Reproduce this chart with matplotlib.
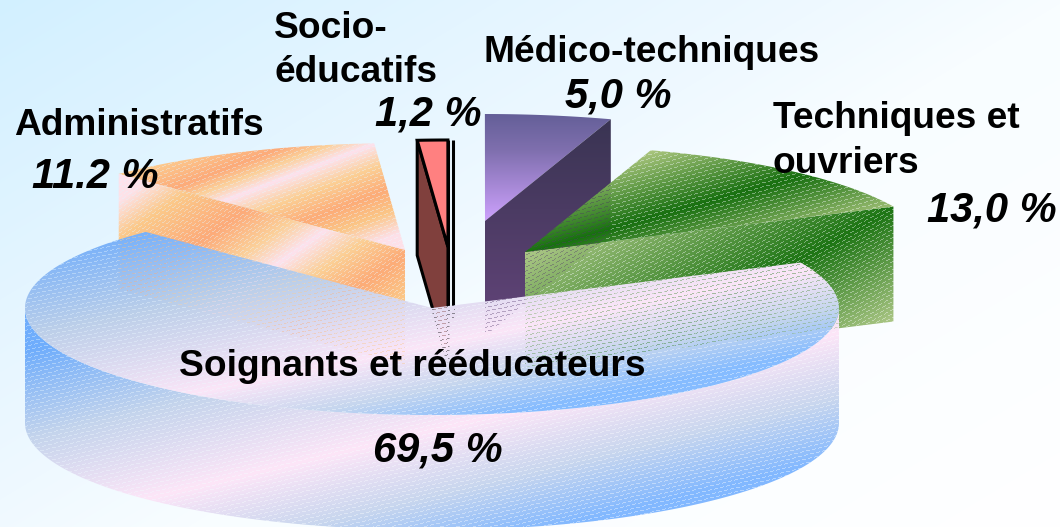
import numpy as np
import matplotlib
matplotlib.use('Agg')
import matplotlib.pyplot as plt
from matplotlib.colors import to_rgb
from matplotlib.patches import Polygon

# pie data, clockwise from the big slice
categories = ['Soignants et rééducateurs', 'Techniques et\nouvriers', 'Médico-techniques',
              'Socio-\néducatifs', 'Administratifs']
values = [69.5, 13.0, 5.0, 1.2, 11.2]
value_labels = ['69,5 %', '13,0 %', '5,0 %', '1,2 %', '11.2 %']

W, H = 1060, 527
RX, RY, DEPTH = 407, 107, 115
START = 134.7

plt.rcParams['font.family'] = ['Liberation Sans', 'DejaVu Sans']

fig = plt.figure(figsize=(W / 100, H / 100), dpi=100)
ax = fig.add_axes([0, 0, 1, 1])
ax.set_xlim(0, W)
ax.set_ylim(H, 0)
ax.axis('off')

px, py = np.meshgrid(np.arange(W) + 0.5, np.arange(H) + 0.5)


def hex_stops(stops):
    pos = [s[0] for s in stops]
    cols = np.array([to_rgb(s[1]) for s in stops])
    return pos, cols


def fill(points, slope, stops, dashes=True):
    # gradient image clipped to a polygon, slope = tilt of the colour bands
    s = slope * px + py
    pos, cols = hex_stops(stops)
    img = np.ones((H, W, 4))
    for i in range(3):
        img[:, :, i] = np.interp(s, pos, cols[:, i])
    if dashes:
        # the little see-through dashes of the old office fill
        row = np.floor(s / 4).astype(int)
        hole = (np.mod(s, 4) < 1) & (np.mod(px + row * 2, 6) < 4)
        img[:, :, 3] = np.where(hole, 0.6, 1.0)
    im = ax.imshow(img, extent=(0, W, H, 0), interpolation='nearest', aspect='auto', zorder=1)
    patch = Polygon(points, closed=True, transform=ax.transData, fc='none', ec='none')
    ax.add_patch(patch)
    im.set_clip_path(patch)


def rim(cx, cy, t0, t1, n=120):
    t = np.radians(np.linspace(t0, t1, n))
    return np.column_stack([cx + RX * np.cos(t), cy - RY * np.sin(t)])


def down(pts):
    return pts + np.array([0, DEPTH])


# angles of each slice, going clockwise on screen means t goes down from START
spans = np.array(values) / sum(values) * 360
ends = [START + spans[0]]
for sp in spans[1:]:
    ends.append(ends[-1] + sp)
big_t0, big_t1 = START, ends[0]
tech_t0, tech_t1 = ends[0] - 360, ends[1] - 360
med_t0, med_t1 = ends[1] - 360, ends[2] - 360
soc_t0, soc_t1 = ends[2] - 360, ends[3] - 360
adm_t0, adm_t1 = ends[3] - 360, ends[4] - 360

bg = [(0, '#d2f0ff'), (300, '#e4f5ff'), (500, '#eff9ff'), (640, '#f8fdff'), (1163, '#ffffff')]
fill([(0, 0), (W, 0), (W, H), (0, H)], 0.6, bg, dashes=False)

# Administratifs
c = (405, 250)
top = np.vstack([[c], rim(c[0], c[1], adm_t0, adm_t1)])
fill(top, 0.38, [(224, '#fccb8f'), (255, '#fdab7a'), (270, '#fbd09a'), (286, '#fde2ee'),
                 (310, '#fbcf95'), (337, '#fdac78'), (360, '#fbc687'), (385, '#fde0e8')])
edge = rim(c[0], c[1], adm_t1, adm_t1, 1)[0]
wall = np.array([edge, c, (c[0], c[1] + DEPTH), (edge[0], edge[1] + DEPTH)])
fill(wall, 0.7, [(258, '#fde2ee'), (285, '#fde2e8'), (322, '#fbc98a'), (382, '#fdab7a'), (425, '#fbd09a'),
                 (458, '#fde2ee'), (495, '#fbcf95'), (538, '#fdac78'), (578, '#fbc687')])

# Socio-educatifs, this one has black outlines
c = (448, 247)
top = np.vstack([[c], rim(c[0], c[1], soc_t0, soc_t1, 5)])
edge = rim(c[0], c[1], soc_t1, soc_t1, 1)[0]
wall = np.array([edge, c, (c[0], c[1] + DEPTH), (edge[0], edge[1] + DEPTH)])
ax.add_patch(Polygon(wall, closed=True, fc='#80403d', ec='black', lw=2.2, zorder=1))
ax.add_patch(Polygon(top, closed=True, fc='#ff8080', ec='black', lw=2.2, zorder=1))
ax.plot([c[0], c[0]], [140, 320], color='black', lw=2.2, solid_capstyle='butt', zorder=1)
ax.plot([c[0] + 4.5, c[0] + 4.5], [140, 320], color='black', lw=2.2, solid_capstyle='butt', zorder=1)

# Medico-techniques
c = (485, 221)
top = np.vstack([[c], rim(c[0], c[1], med_t0, med_t1, 30)])
edge = rim(c[0], c[1], med_t0, med_t0, 1)[0]
wall = np.array([c, edge, (edge[0], edge[1] + DEPTH), (c[0], c[1] + DEPTH)])
fill(top, 0, [(114, '#645f98'), (150, '#7f6fae'), (219, '#cba0fb')], dashes=False)
fill(wall, 0, [(118, '#393452'), (300, '#5d4274')], dashes=False)

# Techniques et ouvriers
c = (525, 252)
top = np.vstack([[c], rim(c[0], c[1], tech_t0, tech_t1)])
edge = rim(c[0], c[1], tech_t0, tech_t0, 1)[0]
wall = np.array([c, edge, (edge[0], edge[1] + DEPTH), (c[0], c[1] + DEPTH)])
fill(wall, 0.55, [(540, '#aec888'), (700, '#1d7514'), (815, '#aec888')])
fill(top, 0.28, [(334, '#a8c47c'), (400, '#187010'), (462, '#a8c47c')])

# Soignants, side first then the top with the holes over the rest
c = (432, 308)
lower = rim(c[0], c[1], 180, 360)
side = np.vstack([lower, down(lower)[::-1]])
fill(side, 0.24, [(357, '#6fadfc'), (445, '#c4d4ec'), (534, '#fde6f8'), (600, '#c8d6ee'), (660, '#82b8ff')])
top = np.vstack([[c], rim(c[0], c[1], big_t0, big_t1 - 0.01, 300)])
fill(top, 0.2, [(250, '#6fadfc'), (340, '#bccfe9'), (432, '#fbe6f8'), (475, '#c6d6ee'), (515, '#86bcff')])

# labels
names = [(categories[0], 179, 376), (categories[1].split('\n')[0], 773, 128), (categories[1].split('\n')[1], 773, 173),
         (categories[2], 484, 62), (categories[3].split('\n')[0], 274, 38), (categories[3].split('\n')[1], 274, 82),
         (categories[4], 14, 135)]
for txt, x, y in names:
    ax.text(x, y, txt, fontsize=26.7, fontweight='bold', color='black', va='baseline', ha='left', zorder=3)

pct_pos = [(373, 462), (927, 222), (565, 108), (375, 125), (32, 188)]
for txt, (x, y) in zip(value_labels, pct_pos):
    ax.text(x, y, txt, fontsize=30, fontweight='bold', style='italic', color='black', va='baseline', ha='left',
            zorder=3)

fig.savefig('out.png', dpi=100)
